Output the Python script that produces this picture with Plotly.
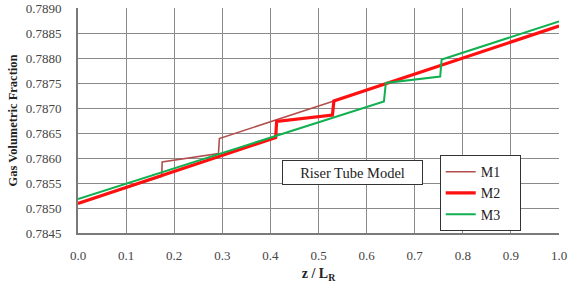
import plotly.graph_objects as go

# M1 polyline vertices
m1_x = [0.0, 0.174, 0.175, 0.292, 0.294, 0.532, 1.0]
m1_y = [0.78509, 0.78563, 0.78592, 0.78609, 0.78639, 0.78714, 0.78864]
# M2 polyline vertices
m2_x = [0.0, 0.411, 0.413, 0.529, 0.532, 1.0]
m2_y = [0.78509, 0.78641, 0.78673, 0.78686, 0.78714, 0.78864]
# M3 polyline vertices
m3_x = [0.0, 0.636, 0.640, 0.753, 0.756, 1.0]
m3_y = [0.78518, 0.78713, 0.78750, 0.78763, 0.78797, 0.78873]

series_names = ["M1", "M2", "M3"]
x_ticks = [0.0, 0.1, 0.2, 0.3, 0.4, 0.5, 0.6, 0.7, 0.8, 0.9, 1.0]
y_ticks = [0.7845, 0.7850, 0.7855, 0.7860, 0.7865, 0.7870, 0.7875, 0.7880, 0.7885, 0.7890]

FONT = "Times New Roman, Liberation Serif, serif"
PAD = "\u00a0\u00a0\u00a0\u00a0"

fig = go.Figure()
fig.add_trace(go.Scatter(x=m1_x, y=m1_y, mode="lines", name=series_names[0] + PAD,
                         line=dict(color="#B24E4E", width=1.6)))
fig.add_trace(go.Scatter(x=m2_x, y=m2_y, mode="lines", name=series_names[1] + PAD,
                         line=dict(color="#FF1010", width=3.2)))
fig.add_trace(go.Scatter(x=m3_x, y=m3_y, mode="lines", name=series_names[2] + PAD,
                         line=dict(color="#10B050", width=2)))

fig.add_annotation(x=0.570, y=0.78571, xref="x", yref="y", text="Riser Tube Model",
                   showarrow=False, font=dict(family=FONT, size=14.5, color="#222"),
                   bgcolor="white", bordercolor="#333", borderwidth=1,
                   width=135, height=19, borderpad=2)

fig.update_layout(
    width=573, height=286,
    margin=dict(l=78, r=14, t=8, b=53),
    paper_bgcolor="white", plot_bgcolor="white",
    font=dict(family=FONT, size=13, color="#444"),
    legend=dict(x=0.752, y=0.346, xanchor="left", yanchor="top",
                bgcolor="white", bordercolor="#333", borderwidth=1,
                font=dict(family=FONT, size=14, color="#222"),
                itemwidth=30, tracegroupgap=0),
    xaxis=dict(range=[0, 1], tickvals=x_ticks, tickformat=".1f",
               showgrid=True, gridcolor="#8a8a8a", gridwidth=1.3,
               showline=True, linecolor="#7a7a7a", linewidth=2,
               zeroline=False, ticks="", ticklabelstandoff=9, automargin=False,
               title=dict(text="<b>z / L<sub>R</sub></b>",
                          font=dict(family=FONT, size=14, color="#222"), standoff=7)),
    yaxis=dict(range=[0.7845, 0.7890], tickvals=y_ticks, tickformat=".4f",
               showgrid=True, gridcolor="#8a8a8a", gridwidth=1.3,
               showline=True, linecolor="#7a7a7a", linewidth=2,
               zeroline=False, ticks="", ticklabelstandoff=12, automargin=False,
               title=dict(text="<b>Gas Volumetric Fraction</b>",
                          font=dict(family=FONT, size=12.5, color="#222"), standoff=5)),
)

fig.write_html("out.html", config={"displayModeBar": False},
               post_script="document.body.style.margin='0';")
